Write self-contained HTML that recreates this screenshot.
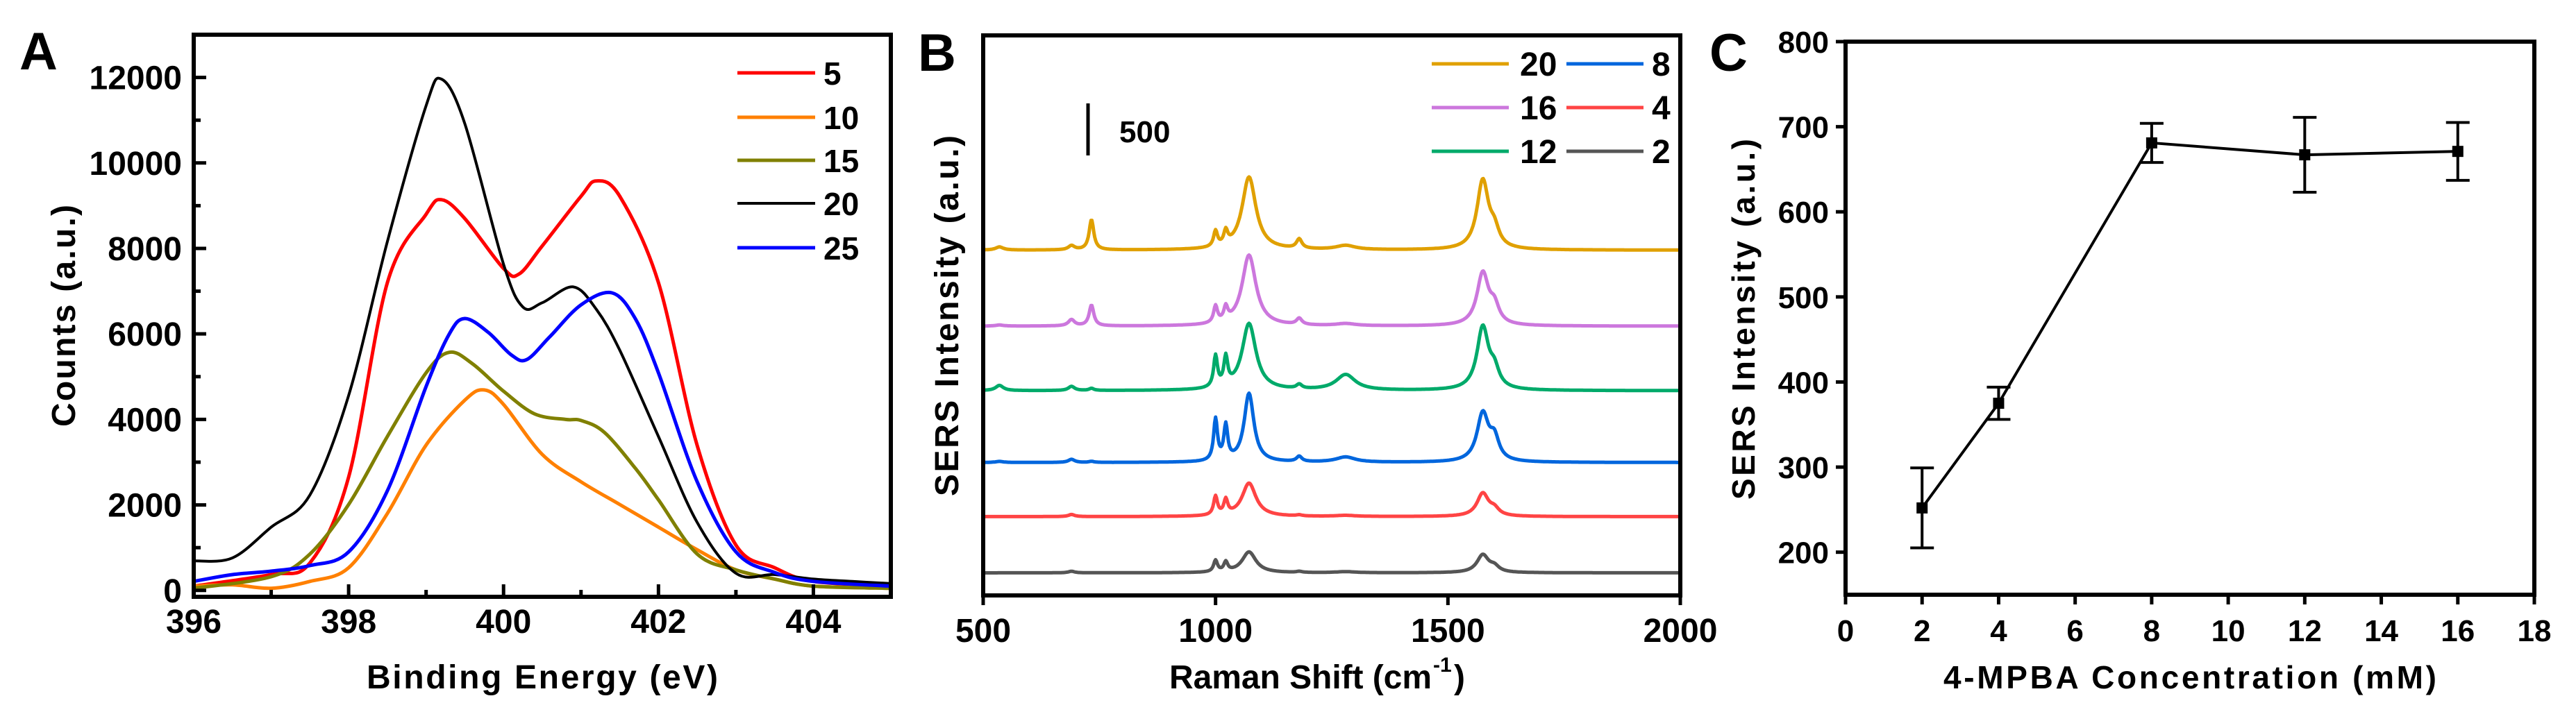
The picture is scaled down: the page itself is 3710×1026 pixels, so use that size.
<!DOCTYPE html>
<html><head><meta charset="utf-8"><style>
html,body{margin:0;padding:0;background:#fff;}
svg{display:block;font-family:"Liberation Sans",Arial,sans-serif;font-weight:bold;}
</style></head><body>
<svg id="fig" width="3710" height="1026" viewBox="0 0 3710 1026" xmlns="http://www.w3.org/2000/svg"></svg>
<script>
// ---------- Panel A data ----------
const aSeriesNames = ["5","10","15","20","25"];
const aColors = ["#ff0000","#ff8000","#808000","#000000","#0000ff"];
const aX5  = [396,397,397.5,398,398.5,399,399.2,399.5,400,400.2,400.5,401,401.2,401.5,402,402.5,403,403.5,404,405];
const aY5  = [100,370,640,2650,7200,8800,9140,8700,7530,7400,8060,9220,9580,9220,7200,3390,1060,530,210,100];
const aX10 = [396,396.5,397,397.5,398,398.5,399,399.5,399.75,400,400.5,401,401.5,402,402.5,403,403.5,404,405];
const aY10 = [100,130,50,210,530,1800,3400,4450,4690,4350,3180,2540,2010,1480,950,480,265,100,50];
const aX15 = [396,397,397.5,398,398.5,399,399.3,399.6,400,400.4,400.8,401,401.3,401.7,402,402.5,403,403.5,404,405];
const aY15 = [50,320,850,2010,3600,5090,5570,5300,4660,4130,4000,3975,3700,2860,2120,850,480,265,100,50];
const aX20 = [396,396.5,397,397.5,398,398.5,399,399.2,399.5,400,400.25,400.5,400.9,401.2,401.5,402,402.5,403,403.5,404,404.5,405];
const aY20 = [690,760,1480,2230,4560,8160,11340,11960,10920,7630,6630,6730,7100,6570,5620,3600,1590,400,370,265,210,160];
const aX25 = [396,396.5,397,397.5,398,398.5,399,399.3,399.5,399.8,400.1,400.3,400.6,401,401.4,401.7,402,402.5,403,403.5,404,405];
const aY25 = [210,370,450,580,900,2330,4770,6000,6360,6040,5510,5400,5940,6680,6960,6360,5090,2540,900,420,210,100];
const aXTicks = [396,398,400,402,404];
const aYTicks = [0,2000,4000,6000,8000,10000,12000];

// ---------- Panel B data ----------
const bSeriesNames = ["20","16","12","8","4","2"];
const bColors = ["#e0a000","#cc77dd","#00aa6a","#0066dd","#ff4444","#555555"];
const bOffsets = [3330,2600,1980,1290,770,230];
const bPeakPos = [535,690,733,1000,1022,1072,1180,1280,1575,1600];
const bH20 = [30,40,290,150,130,700,90,40,660,150];
const bH16 = [10,60,200,160,130,680,60,20,500,160];
const bH12 = [50,40,20,300,270,640,40,150,600,160];
const bH8  = [10,30,10,400,330,660,50,50,460,200];
const bH4  = [0,20,0,180,140,320,10,10,220,60];
const bH2  = [0,15,0,110,90,200,10,10,170,50];
const bXTicks = [500,1000,1500,2000];

// ---------- Panel C data ----------
const cX = [2,4,8,12,16];
const cY = [252,375,681,667,671];
const cErr = [47,19,23,44,34];
const cXTicks = [0,2,4,6,8,10,12,14,16,18];
const cYTicks = [200,300,400,500,600,700,800];

const NS="http://www.w3.org/2000/svg";
const svg=document.getElementById('fig');
function el(tag,attrs,parent){const e=document.createElementNS(NS,tag);for(const k in attrs)e.setAttribute(k,attrs[k]);(parent||svg).appendChild(e);return e;}
function txt(s,attrs,parent){const t=el('text',attrs,parent);t.textContent=s;return t;}
function smooth(pts){let d='M'+pts[0][0].toFixed(1)+','+pts[0][1].toFixed(1);
 for(let i=0;i<pts.length-1;i++){const p0=pts[Math.max(0,i-1)],p1=pts[i],p2=pts[i+1],p3=pts[Math.min(pts.length-1,i+2)];
  const c1=[p1[0]+(p2[0]-p0[0])/6,p1[1]+(p2[1]-p0[1])/6],c2=[p2[0]-(p3[0]-p1[0])/6,p2[1]-(p3[1]-p1[1])/6];
  d+=' C'+c1[0].toFixed(1)+','+c1[1].toFixed(1)+' '+c2[0].toFixed(1)+','+c2[1].toFixed(1)+' '+p2[0].toFixed(1)+','+p2[1].toFixed(1);}
 return d;}

// ===== Panel A =====
const A={l:279,r:1283,t:50,b:860,x0:396,x1:405,y0:-150,y1:13000};
const ax=v=>A.l+(v-A.x0)/(A.x1-A.x0)*(A.r-A.l);
const ay=v=>A.b-(v-A.y0)/(A.y1-A.y0)*(A.b-A.t);
const gA=el('g',{});


const aXs=[aX5,aX10,aX15,aX20,aX25], aYs=[aY5,aY10,aY15,aY20,aY25];
for(let s=0;s<5;s++){
 const pts=aXs[s].map((x,i)=>[ax(x),ay(aYs[s][i])]);
 const p=el('path',{d:smooth(pts),fill:'none',stroke:aColors[s],'stroke-width':s==3?4:5,'stroke-linejoin':'round'},gA);
 
 
}
el('rect',{x:A.l,y:A.t,width:A.r-A.l,height:A.b-A.t,fill:'none',stroke:'#000','stroke-width':6},gA);
for(let v=396;v<=405;v+=1){const major=aXTicks.includes(v);el('line',{x1:ax(v),x2:ax(v),y1:A.b,y2:A.b-(major?18:10),stroke:'#000','stroke-width':5},gA);}
aXTicks.forEach(v=>{const t=txt(String(v),{x:ax(v),y:912,'font-size':48,'text-anchor':'middle'},gA);});
for(let v=0;v<=13000;v+=1000){const major=aYTicks.includes(v);el('line',{x1:A.l,x2:A.l+(major?18:10),y1:ay(v),y2:ay(v),stroke:'#000','stroke-width':5},gA);}
aYTicks.forEach(v=>{const t=txt(String(v),{x:262,y:ay(v)+17,'font-size':48,'text-anchor':'end'},gA);});
let t=txt('Binding Energy (eV)',{x:781,y:992,'font-size':48,'text-anchor':'middle',textLength:506},gA);

t=txt('Counts (a.u.)',{x:0,y:0,'font-size':48,'text-anchor':'middle',transform:'translate(108,455) rotate(-90)',textLength:320},gA);

t=txt('A',{x:28,y:100,'font-size':76},gA);

const aLegY=[105,169,231,293,357];
for(let s=0;s<5;s++){
 const g=el('g',{},gA);
 
 
 el('line',{x1:1062,x2:1174,y1:aLegY[s],y2:aLegY[s],stroke:aColors[s],'stroke-width':s==3?4:5},g);
 txt(aSeriesNames[s],{x:1186,y:aLegY[s]+17,'font-size':46},g);
}

// ===== Panel B =====
const B={l:1416,r:2420,t:51,b:858,x0:500,x1:2000};
const bx=v=>B.l+(v-B.x0)/(B.x1-B.x0)*(B.r-B.l);
const bPx=75/500; // px per intensity unit
const by=(v)=>860-v*bPx;
const gB=el('g',{});


const bHs=[bH20,bH16,bH12,bH8,bH4,bH2];
const bWidths=[10,8,6,5,5,18,7,25,15,12];
for(let s=0;s<6;s++){
 let d='';
 for(let r=502;r<=1998;r+=2){
  let v=bOffsets[s];
  for(let k=0;k<bPeakPos.length;k++){const w=bWidths[k]*(s==3&&k==5?0.7:1);const u=(r-bPeakPos[k])/w;v+=bHs[s][k]/(1+u*u);}
  d+=(d?'L':'M')+bx(r).toFixed(1)+','+(by(v)-0).toFixed(1);
 }
 const p=el('path',{d:d,fill:'none',stroke:bColors[s],'stroke-width':5,'stroke-linejoin':'round'},gB);
 
 
}
el('rect',{x:B.l,y:B.t,width:B.r-B.l,height:B.b-B.t,fill:'none',stroke:'#000','stroke-width':6},gB);
bXTicks.forEach(v=>{el('line',{x1:bx(v),x2:bx(v),y1:B.b,y2:B.b+14,stroke:'#000','stroke-width':5},gB);
 const t=txt(String(v),{x:bx(v),y:925,'font-size':48,'text-anchor':'middle'},gB);});
t=txt('Raman Shift (cm',{x:1684,y:992,'font-size':48,textLength:378},gB);

txt('-1',{x:2064,y:968,'font-size':30},gB);
txt(')',{x:2094,y:992,'font-size':48},gB);
t=txt('SERS Intensity (a.u.)',{x:0,y:0,'font-size':48,'text-anchor':'middle',transform:'translate(1380,455) rotate(-90)',textLength:520},gB);

t=txt('B',{x:1322,y:102,'font-size':76},gB);

const sb=el('line',{x1:1567,x2:1567,y1:149,y2:224,stroke:'#000','stroke-width':5},gB);

txt('500',{x:1612,y:205,'font-size':44},gB);
const bLegX=[2062,2256], bLegTX=[2189,2379], bLegY=[92,155,218];
const bOrder=[0,3,1,4,2,5];
bOrder.forEach((s,i)=>{
 const col=i%2,row=Math.floor(i/2);
 const g=el('g',{},gB);
 
 
 el('line',{x1:bLegX[col],x2:bLegX[col]+111,y1:bLegY[row],y2:bLegY[row],stroke:bColors[s],'stroke-width':5},g);
 txt(bSeriesNames[s],{x:bLegTX[col],y:bLegY[row]+17,'font-size':48},g);
});

// ===== Panel C =====
const C={l:2658,r:3650,t:60,b:857,x0:0,x1:18,y0:150,y1:800};
const cxs=v=>C.l+(v-C.x0)/(C.x1-C.x0)*(C.r-C.l);
const cys=v=>C.b-(v-C.y0)/(C.y1-C.y0)*(C.b-C.t);
const gC=el('g',{});


el('rect',{x:C.l,y:C.t,width:C.r-C.l,height:C.b-C.t,fill:'none',stroke:'#000','stroke-width':6},gC);
cXTicks.forEach(v=>{el('line',{x1:cxs(v),x2:cxs(v),y1:C.b,y2:C.b+14,stroke:'#000','stroke-width':5},gC);
 const t=txt(String(v),{x:cxs(v),y:924,'font-size':44,'text-anchor':'middle'},gC);});
cYTicks.forEach(v=>{el('line',{x1:C.l-14,x2:C.l,y1:cys(v),y2:cys(v),stroke:'#000','stroke-width':5},gC);
 const t=txt(String(v),{x:2634,y:cys(v)+16,'font-size':44,'text-anchor':'end'},gC);});
const lp=el('polyline',{points:cX.map((x,i)=>cxs(x)+','+cys(cY[i])).join(' '),fill:'none',stroke:'#000','stroke-width':4},gC);

cX.forEach((x,i)=>{
 const g=el('g',{},gC);
 
 
 const px=cxs(x),y1=cys(cY[i]+cErr[i]),y2=cys(cY[i]-cErr[i]);
 el('line',{x1:px,x2:px,y1:y1,y2:y2,stroke:'#000','stroke-width':4},g);
 el('line',{x1:px-17,x2:px+17,y1:y1,y2:y1,stroke:'#000','stroke-width':4},g);
 el('line',{x1:px-17,x2:px+17,y1:y2,y2:y2,stroke:'#000','stroke-width':4},g);
 el('rect',{x:px-8,y:cys(cY[i])-8,width:16,height:16,fill:'#000'},g);
});
t=txt('4-MPBA Concentration (mM)',{x:3154,y:992,'font-size':46,'text-anchor':'middle',textLength:710},gC);

t=txt('SERS Intensity (a.u.)',{x:0,y:0,'font-size':46,'text-anchor':'middle',transform:'translate(2527,460) rotate(-90)',textLength:520},gC);

t=txt('C',{x:2462,y:102,'font-size':76},gC);

</script>
</body></html>
